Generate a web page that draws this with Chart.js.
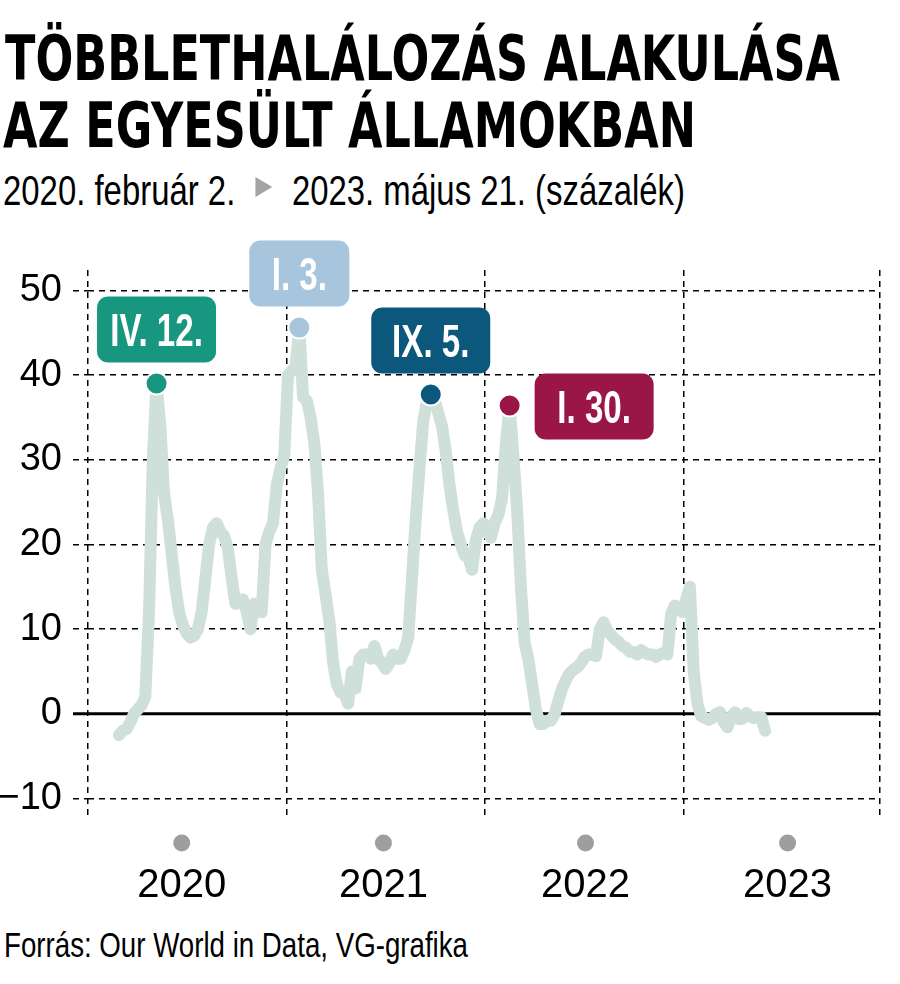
<!DOCTYPE html>
<html lang="hu">
<head>
<meta charset="utf-8">
<title>Többlethalálozás alakulása az Egyesült Államokban</title>
<script src="https://cdn.jsdelivr.net/npm/chart.js@4.4.1/dist/chart.umd.min.js"></script>
<style>
  html, body { margin: 0; padding: 0; background: #fff; }
  body { width: 900px; height: 984px; position: relative; overflow: hidden;
         font-family: "Liberation Sans", Arial, sans-serif; color: #000; }
  .line { position: absolute; white-space: nowrap; transform-origin: 0 0; }
  .title { font-family: "DejaVu Sans Condensed", "DejaVu Sans", sans-serif; font-stretch: condensed;
           font-weight: bold; font-size: 63px; line-height: 63px; }
  .sub { font-size: 43px; line-height: 43px; }
  .tri { display: inline-block; width: 0; height: 0; vertical-align: 8px;
         border-left: 22px solid #a3a3a3; border-top: 10px solid transparent; border-bottom: 10px solid transparent;
         margin: 0 26px 0 26px; }
  .foot { font-size: 35px; line-height: 35px; }
  #wrap { position: absolute; left: 0; top: 225px; width: 900px; height: 700px; }
</style>
</head>
<body>
<div class="line title" id="t1" style="left:5px; top:27px;">TÖBBLETHALÁLOZÁS ALAKULÁSA</div>
<div class="line title" id="t2" style="left:3px; top:94px;">AZ EGYESÜLT ÁLLAMOKBAN</div>
<div class="line sub" id="sub" style="left:3px; top:169px;">2020. február 2.<span class="tri"></span>2023. május 21. (százalék)</div>
<div id="wrap"><canvas id="chart" width="900" height="700"></canvas></div>
<div class="line foot" id="foot" style="left:4px; top:927px;">Forrás: Our World in Data, VG-grafika</div>

<script>
// heti többlethalálozás (%), 2020-02-02-tól 2023-05-21-ig, hetente egy érték
const values = [
  -2.5, -2, -1.8, -1, 0, 0.5, 1, 2, 12, 30,
  39, 34, 26, 23, 19, 15, 12, 10.5, 9.5, 9,
  9.2, 10, 12, 16, 20, 22, 22.5, 21.5, 21, 19.5,
  16, 13, 13.5, 13.5, 12, 10, 13, 12.5, 12, 20,
  21.5, 22.5, 27, 29, 30.5, 40, 40.5, 41, 45.6, 37.4,
  37, 35, 32, 26, 17, 14, 11, 6, 3.5, 2.5,
  2.3, 1.2, 5, 3, 6.5, 7, 7, 6.5, 8, 6.5,
  6, 5.3, 6, 7, 6.5, 6.5, 7.5, 9, 16, 23,
  29, 34.5, 37, 37.7, 37.2, 35.5, 34, 31, 27, 24,
  21.5, 20, 18.7, 18.5, 17, 20.5, 22, 22.5, 21.5, 20.8,
  22.5, 23.5, 25.5, 32, 36.4, 30.5, 24, 15, 8.4, 6.4,
  3.5, 0.5, -1.2, -1.2, -0.8, -0.8, 0, 1.6, 3, 4,
  4.8, 5.2, 5.5, 6, 6.7, 7, 7, 6.8, 10, 10.8,
  9.8, 9.3, 8.8, 8.5, 8, 7.8, 7.3, 7.3, 7, 7.5,
  7.2, 7, 7, 6.7, 7, 7.2, 7, 11.8, 12.8, 12.5,
  12, 13.5, 15, 5, 1.2, -0.3, -0.5, -0.7, -0.5, 0,
  0.2, -1, -1.6, -0.3, 0.2, -0.6, -0.6, 0.1, -0.3, -0.5,
  -0.4, -0.4, -2
];

// csúcsok (hét sorszáma) és feliratuk
const peakWeeks = [10, 48, 83, 104];
const peakLabels = ["IV. 12.", "I. 3.", "IX. 5.", "I. 30."];
const peakColors = ["#17977f", "#a7c5dd", "#0b587c", "#9a1646"];

// tengelyek
const yTicks = [-10, 0, 10, 20, 30, 40, 50];
const gridWeeks = [-8.25, 44.7, 97.4, 150.4, 202.6];
const yearWeeks = [16.7, 70.4, 124.2, 178.0];
const yearLabels = ["2020", "2021", "2022", "2023"];

// szövegek szélességre igazítása
function fit(id, width) {
    let el = document.getElementById(id);
    let s = width / el.getBoundingClientRect().width;
    el.style.transform = "scaleX(" + s + ")";
    return s;
}
let ts = fit("t1", 835);
document.getElementById("t2").style.transform = "scaleX(" + ts + ")";
fit("sub", 682);
fit("foot", 464);

const fontFamily = "'Liberation Sans', Arial, sans-serif";
const dash = [6, 5];

// vastag nullvonal
const zeroLine = {
    id: "zeroLine",
    beforeDatasetsDraw(chart) {
        const { ctx, chartArea, scales } = chart;
        const py = scales.y.getPixelForValue(0);
        ctx.save();
        ctx.strokeStyle = "#000";
        ctx.lineWidth = 3;
        ctx.beginPath();
        ctx.moveTo(chartArea.left - 15, py);
        ctx.lineTo(chartArea.right, py);
        ctx.stroke();
        ctx.restore();
    }
};

// évek fölötti pöttyök és a csúcsok címkéi
const marks = {
    id: "marks",
    afterDraw(chart) {
        const { ctx, chartArea, scales } = chart;
        ctx.save();
        ctx.fillStyle = "#9e9e9e";
        scales.yr.ticks.forEach(t => {
            ctx.beginPath();
            ctx.arc(scales.yr.getPixelForValue(t.value), chartArea.bottom + 25, 8.5, 0, Math.PI * 2);
            ctx.fill();
        });

        const boxW = [119, 100, 119, 119];
        const h = 66;
        chart.getDatasetMeta(1).data.forEach((pt, i) => {
            const w = boxW[i];
            let bx, by;
            if (i === 3) {
                bx = pt.x + 25;
                by = pt.y - h / 2 + 1;
            } else {
                bx = pt.x - w / 2;
                by = pt.y - 21 - h;
            }
            ctx.fillStyle = peakColors[i];
            ctx.beginPath();
            ctx.roundRect(bx, by, w, h, 11);
            ctx.fill();
            ctx.save();
            ctx.fillStyle = "#fff";
            ctx.font = "bold 46px " + fontFamily;
            ctx.textAlign = "center";
            ctx.textBaseline = "alphabetic";
            ctx.translate(bx + w / 2, by + h / 2 + 16.5);
            ctx.scale(0.72, 1);
            ctx.fillText(peakLabels[i], 0, 0);
            ctx.restore();
        });
        ctx.restore();
    }
};

new Chart(document.getElementById("chart"), {
    type: "line",
    data: {
        datasets: [
            {
                label: "Többlethalálozás",
                data: values.map((v, i) => ({ x: i, y: v })),
                borderColor: "#cee0d9",
                borderWidth: 12,
                borderJoinStyle: "round",
                borderCapStyle: "round",
                pointRadius: 0,
                tension: 0,
                order: 2
            },
            {
                label: "Csúcsok",
                data: peakWeeks.map(w => ({ x: w, y: values[w] })),
                showLine: false,
                pointRadius: 11,
                pointHoverRadius: 11,
                pointBackgroundColor: peakColors,
                pointBorderColor: "#fff",
                pointBorderWidth: 2,
                order: 1
            }
        ]
    },
    options: {
        responsive: false,
        animation: false,
        devicePixelRatio: 1,
        clip: false,
        layout: { padding: { top: 45, right: 20, left: 0, bottom: 0 } },
        plugins: {
            legend: { display: false },
            tooltip: { enabled: false }
        },
        scales: {
            x: {
                type: "linear",
                min: gridWeeks[0],
                max: gridWeeks[gridWeeks.length - 1],
                afterBuildTicks: a => { a.ticks = gridWeeks.map(v => ({ value: v })); },
                afterFit: a => { a.height = 0; },
                ticks: { display: false },
                grid: { color: "#000", lineWidth: 1.5, drawTicks: false },
                border: { display: false, dash: dash }
            },
            yr: {
                type: "linear",
                position: "bottom",
                min: gridWeeks[0],
                max: gridWeeks[gridWeeks.length - 1],
                afterBuildTicks: a => { a.ticks = yearWeeks.map(v => ({ value: v })); },
                afterFit: a => { a.height = 107; },
                grid: { display: false, drawTicks: false },
                border: { display: false },
                ticks: {
                    autoSkip: false,
                    maxRotation: 0,
                    padding: 44,
                    color: "#000",
                    font: { family: fontFamily, size: 40 },
                    callback: (v, i) => yearLabels[i]
                }
            },
            y: {
                min: -12.3,
                max: 52.4,
                afterBuildTicks: a => { a.ticks = yTicks.map(v => ({ value: v })); },
                afterFit: a => { a.width = 88; },
                grid: { color: "#000", lineWidth: 1.5, tickLength: 15, tickColor: "#000", tickWidth: 1.5, tickBorderDash: dash },
                border: { display: false, dash: dash },
                ticks: {
                    padding: 11,
                    color: "#000",
                    font: { family: fontFamily, size: 38 },
                    callback: v => v < 0 ? "\u2212" + Math.abs(v) : String(v)
                }
            }
        }
    },
    plugins: [zeroLine, marks]
});
</script>
</body>
</html>
